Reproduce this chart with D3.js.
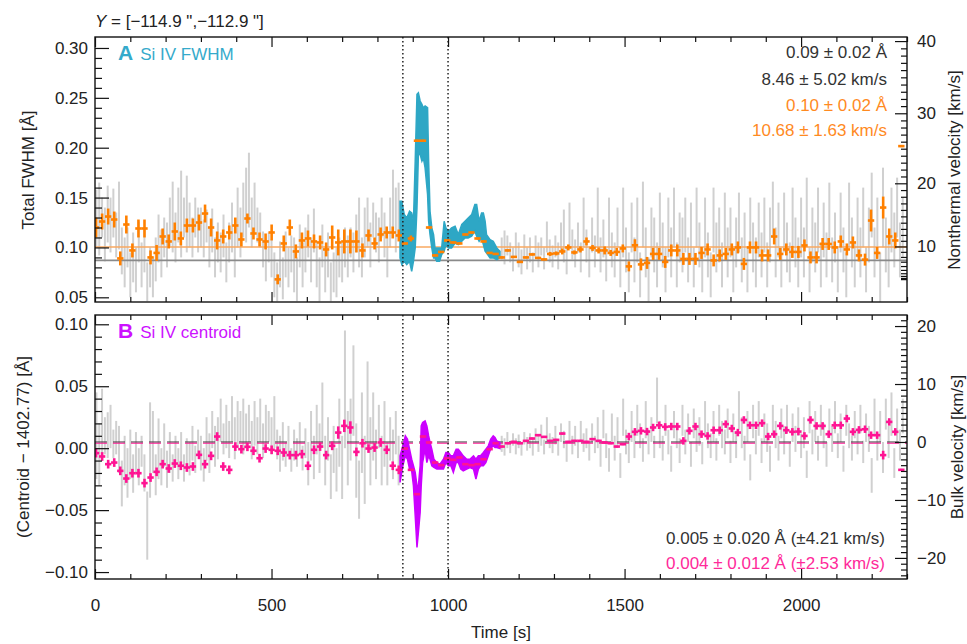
<!DOCTYPE html>
<html>
<head>
<meta charset="utf-8">
<title>Si IV FWHM / centroid</title>
<script src="https://d3js.org/d3.v7.min.js"></script>
<style>
  body { margin: 0; background: #fff; }
  svg { display: block; }
  text, .axis text { font-family: "Liberation Sans", Arial, Helvetica, sans-serif; font-size: 17px; fill: #222; }
  .axis line { stroke: #111; stroke-width: 1.2px; }
</style>
</head>
<body>
<svg width="967" height="644"></svg>
<script>
// ---------- data ----------
// binned points: time = binStart + i * binStep  [s]
var binStart = 3, binStep = 17.15, binHalf = 9;

// panel A, binned FWHM [Å]
var fwhmBin = [
  0.120,0.126,0.131,0.128,0.089,0.123,0.097,0.119,0.119,0.090,
  0.0945,0.111,0.106,0.116,0.109,0.122,0.122,0.125,0.134,0.120,
  0.107,0.111,0.115,0.122,0.108,0.129,0.114,0.108,0.106,0.115,
  0.068,0.104,0.120,0.096,0.107,0.109,0.106,0.105,0.098,0.110,
  0.105,0.106,0.106,0.106,0.097,0.112,0.104,0.113,0.115,0.115,
  0.112,0.104,0.109,0.207,0.207,0.120,0.092,0.0955,0.107,0.105,
  0.104,0.113,0.115,0.109,0.106,0.0945,0.0935,0.090,0.097,0.0905,
  0.0855,0.090,0.093,0.0895,0.088,0.0935,0.094,0.096,0.100,0.095,
  0.098,0.106,0.0995,0.097,0.097,0.0945,0.0955,0.099,0.081,0.1022,
  0.083,0.0845,0.0935,0.0935,0.0855,0.097,0.097,0.0885,0.0885,0.0885,
  0.0945,0.098,0.087,0.092,0.0935,0.098,0.100,0.0835,0.100,0.100,
  0.092,0.092,0.111,0.0935,0.098,0.0955,0.0955,0.102,0.090,0.090,
  0.1035,0.1035,0.100,0.106,0.098,0.105,0.092,0.0878,0.127,0.0945,
  0.140,0.111,0.107,0.2016
];
// half error bars, 10^-3 Å
var fwhmBinErr = [
  10,8,8,8,7,9,7,9,9,7, 8,8,7,9,7,7,7,8,9,9, 9,7,7,8,7,5,6,7,8,8,
  5,8,8,7,8,8,7,7,7,12, 13,12,12,11,7,6,6,7,6,6, 6,1,3,1,1,1,1,1,1,1,
  1,1,1,1,1,1,1,1,1,1, 1,1,1,1,1,2,2,3,3,2, 3,4,3,3,4,3,4,4,5,6,
  6,6,6,6,6,6,6,6,6,6, 6,6,6,6,6,6,6,6,6,6, 6,6,8,6,6,6,6,6,6,6,
  6,6,6,6,6,6,6,6,11,6, 11,8,8,1
];

// panel B, binned centroid offset, 10^-3 Å
var centBin = [
  -4.0,-6.7,-12.9,-11.6,-18.3,-24.5,-20.2,-20.2,-28.2,-23.7,
  -19.1,-12.9,-16.4,-12.4,-14.2,-15.6,-14.8,-5.4,-12.9,-6.2,
  9.4,-14.8,-17.5,1.3,-0.8,1.1,-2.1,-8.1,-0.3,-1.3,
  -2.1,-3.5,-5.6,-5.6,-4.8,-14.2,-1.3,1.3,-5.6,1.9,
  12.6,18.0,16.7,-3.0,4.0,-0.3,0.5,4.6,-1.3,-14.2,
  -17.5,-0.3,-17.5,-37.1,9.4,4.6,-11.6,-13.7,-8.3,-9.4,
  -7.5,-12.9,-13.7,-12.9,-8.9,-0.8,4.0,1.3,4.0,5.1,
  4.0,5.9,7.8,10.5,9.1,5.9,6.7,11.8,5.1,5.9,
  5.9,5.1,7.3,5.9,4.6,4.0,1.3,3.2,9.4,13.2,
  14.0,13.4,16.7,18.5,17.2,17.5,17.5,5.9,14.0,17.5,
  11.3,9.9,14.5,14.5,19.4,15.9,12.6,22.8,18.5,18.5,
  20.2,9.4,11.3,18.0,14.5,13.2,13.4,9.9,22.8,18.0,
  18.0,11.3,18.5,18.5,23.9,13.2,14.8,15.3,10.5,10.5,
  -5.6,21.2,13.2,-17.5
];
var centBinErr = [
  3.5,3.5,3.5,3.5,3.5,3.5,3.5,3.5,3.5,3.5, 3.5,3.5,3.5,3.5,3.5,3.5,3.5,3.5,3.5,3.5,
  3.5,3.5,3.5,3.5,3.5,3.5,3.5,3.5,3.5,3.5, 3.5,3.5,3.5,3.5,3.5,3.5,3.5,3.5,3.5,3.5,
  5,5,5,3.5,3.5,3.5,3.5,3.5,3.5,3.5, 3.5,0.8,0.8,0.8,0.8,0.8,0.8,0.8,0.8,0.8,
  0.8,0.8,0.8,0.8,0.8,0.8,0.8,0.8,0.8,0.8, 0.8,0.8,0.8,0.8,0.8,0.8,0.8,0.8,0.8,0.8,
  0.8,0.8,0.8,0.8,0.8,0.8,0.8,0.8,3,3, 3,3,3,3,3,3,3,3,3,3,
  3,3,3,3,3,3,3,3,3,3, 3,3,3,3,3,3,3,3,3,3,
  3,3,3,3,3,3,3,3,3,3, 3.5,3,3,0.8
];

// full-cadence error bars (grey), [lo, hi] in 10^-3 Å, time = start + i * grayStep
var grayStep = 8, grayPreStart = 4, grayPostStart = 1152;
var fwhmGrayPre = [
  [100,158],[92,165],[110,150],[86,140],[105,162],[95,150],[110,159],[90,135],[98,166],[73,120],
  [60,110],[80,120],[50,95],[65,115],[55,100],[85,126],[60,105],[75,120],[46,85],[60,100],
  [50,90],[66,110],[85,133],[70,118],[90,130],[80,125],[100,150],[95,166],[85,135],[105,160],
  [90,177],[110,150],[95,172],[100,145],[90,130],[110,150],[95,140],[100,140],[90,128],[105,138],
  [80,120],[95,139],[70,110],[85,125],[75,115],[90,133],[65,105],[85,125],[95,145],[70,120],
  [100,160],[90,140],[110,165],[105,180],[120,195],[100,150],[115,165],[105,140],[100,135],[80,116],
  [66,105],[85,115],[70,108],[50,95],[46,85],[60,106],[48,90],[70,116],[60,100],[75,112],
  [55,110],[46,90],[80,123],[60,105],[75,120],[90,133],[65,110],[95,139],[60,105],[46,90],
  [80,123],[55,100],[70,115],[46,85],[55,95],[50,100],[70,110],[65,105],[80,120],[70,112],
  [90,120],[75,115],[95,133],[80,150],[70,110],[90,140],[100,150],[80,125],[110,145],[95,135],
  [85,130],[110,150],[90,135],[70,115],[100,150],[120,178],[95,160],[110,165]
];
var fwhmGrayPost = [
  [88,110],[83,117],[92,112],[85,105],[76,100],[90,115],[80,105],[73,98],[88,113],[78,100],
  [85,110],[75,95],[90,112],[80,105],[92,110],[78,100],[95,126],[85,108],[80,102],[90,112],
  [78,105],[95,125],[85,138],[73,100],[100,145],[88,118],[80,108],[95,125],[75,105],[100,150],
  [85,118],[70,100],[95,130],[80,112],[100,160],[75,110],[90,128],[66,100],[95,150],[80,115],
  [70,105],[100,140],[60,100],[90,160],[75,120],[55,95],[95,145],[65,110],[85,150],[50,95],
  [100,166],[70,120],[46,90],[90,140],[75,130],[60,105],[95,155],[80,125],[55,100],[90,150],
  [70,120],[100,160],[60,105],[85,135],[75,130],[95,150],[65,110],[90,145],[60,100],[100,160],
  [80,125],[55,100],[90,150],[70,115],[50,95],[95,160],[75,125],[85,140],[60,105],[100,155],
  [70,120],[90,140],[55,100],[80,130],[95,155],[65,110],[85,135],[55,100],[100,150],[75,125],
  [60,110],[90,145],[70,115],[95,150],[60,105],[85,140],[110,166],[70,120],[90,145],[60,100],
  [95,155],[75,125],[65,105],[100,160],[80,130],[60,110],[90,150],[70,120],[100,170],[55,100],
  [85,140],[75,125],[95,160],[60,105],[90,145],[70,115],[100,165],[65,110],[85,135],[55,100],
  [95,155],[75,120],[50,95],[100,165],[80,130],[60,105],[90,150],[70,120],[100,160],[55,100],
  [85,140],[110,175],[70,120],[90,150],[45,95],[100,180],[75,130],[60,110],[95,160],[80,135],
  [110,170],[70,125],[90,150]
];
var centGrayPre = [
  [-25,45],[-30,20],[-10,48],[-5,25],[-8,29],[0,35],[-8,15],[-5,22],[-20,18],[-47,-10],
  [-30,10],[-40,0],[-25,15],[-36,-5],[-20,13],[-30,0],[-15,10],[-35,-5],[-90,-35],[-40,37],
  [-20,30],[-38,-5],[-25,24],[-30,0],[-15,20],[-32,-2],[-20,13],[-27,-5],[-15,10],[-25,0],
  [-12,13],[-27,-5],[-18,8],[-22,5],[-10,18],[-20,2],[-5,15],[-18,10],[-27,0],[-10,25],
  [-20,12],[0,30],[-15,18],[-9,25],[5,40],[-5,20],[0,35],[-8,22],[5,42],[-9,25],
  [0,38],[5,30],[-5,40],[0,28],[5,35],[-9,22],[2,38],[-5,25],[5,40],[-8,20],
  [0,35],[5,30],[-5,25],[0,42],[-9,15],[-19,10],[-10,21],[-15,5],[-5,18],[-19,0],
  [-10,15],[-15,8],[-5,21],[-18,2],[-8,16],[-30,5],[-10,30],[-25,10],[-5,35],[-20,20],
  [0,53],[-30,10],[-10,25],[-41,-5],[-20,18],[-35,0],[-15,40],[-41,10],[0,95],[-30,30],
  [-10,40],[10,83],[-40,20],[-57,-10],[-20,45],[-45,10],[0,70],[-30,25],[-10,45],[-25,15],
  [0,35],[-30,10],[-15,38],[-30,5],[-10,25],[-25,15],[-5,30],[-30,10]
];
var centGrayPost = [
  [-3,10],[-6,8],[0,13],[-4,6],[2,12],[-5,8],[0,11],[-6,5],[3,13],[-2,9],
  [0,12],[-6,8],[4,16],[-3,10],[2,19],[-5,7],[5,25],[0,12],[-4,9],[3,18],
  [-6,6],[5,20],[0,14],[-11,5],[4,22],[-5,10],[2,18],[-8,6],[6,22],[-3,12],
  [0,16],[-10,4],[5,20],[-4,10],[0,25],[-15,5],[8,31],[-8,12],[-19,0],[5,28],
  [-10,10],[2,25],[-24,-4],[10,40],[-5,15],[-12,8],[5,30],[-8,12],[10,35],[0,20],
  [-11,8],[8,38],[-5,15],[5,25],[-8,10],[20,57],[0,22],[-10,10],[10,35],[-5,15],
  [-19,2],[8,30],[0,20],[-12,8],[10,35],[-5,15],[5,28],[-15,5],[8,32],[-3,18],
  [2,25],[-13,5],[10,38],[0,20],[-8,12],[5,30],[-10,8],[10,35],[0,22],[-5,15],
  [8,32],[-12,6],[5,28],[-8,14],[15,46],[0,25],[-10,10],[5,30],[-26,-5],[8,35],
  [-5,15],[10,38],[-12,8],[5,28],[-3,20],[-19,2],[10,35],[0,22],[-10,10],[8,32],
  [-5,18],[12,35],[-15,5],[5,28],[-3,18],[10,33],[-8,12],[0,25],[-24,-2],[12,38],
  [-5,15],[5,30],[-10,10],[10,35],[0,20],[-15,5],[8,32],[-3,18],[12,38],[-8,12],
  [5,28],[-19,2],[10,35],[0,20],[-10,10],[8,30],[-5,15],[12,35],[-12,6],[5,28],
  [-3,18],[-36,-8],[10,40],[-10,12],[5,30],[-20,5],[15,40],[-8,18],[10,45],[-24,0],
  [5,32],[-10,15],[12,40]
];

// high-cadence band during the event: [time, lo, hi]
var fwhmBand = [
  [864,0.0895,0.1464],[869,0.0828,0.1464],[876,0.0861,0.1330],[883,0.0828,0.1296],[891,0.0861,0.1363],
  [897,0.0761,0.1346],[902,0.0861,0.1263],[907,0.0995,0.1865],[912,0.1397,0.2535],[916,0.1933,0.2551],
  [921,0.1933,0.2468],[926,0.1865,0.2435],[930,0.1899,0.2401],[935,0.1798,0.2418],[942,0.1531,0.2401],
  [945,0.1263,0.1865],[949,0.1129,0.1363],[954,0.0995,0.1196],[959,0.0895,0.1129],[963,0.0895,0.0995],
  [968,0.0861,0.0995],[976,0.0861,0.0995],[982,0.0929,0.0995],[989,0.0962,0.1263],[994,0.1029,0.1196],
  [1001,0.0995,0.1163],[1010,0.0995,0.1196],[1020,0.1045,0.1213],[1029,0.1029,0.1129],[1039,0.1062,0.1230],
  [1048,0.1095,0.1263],[1057,0.1095,0.1296],[1067,0.1112,0.1330],[1076,0.1163,0.1431],[1081,0.1112,0.1431],
  [1088,0.1062,0.1263],[1095,0.1095,0.1346],[1100,0.1029,0.1346],[1105,0.0962,0.1263],[1109,0.0945,0.1129],
  [1119,0.0895,0.1079],[1128,0.0895,0.1062],[1138,0.0878,0.0995],[1147,0.0895,0.0962]
];
var centBand = [
  [864,-0.0277,-0.0062],[872,-0.0142,0.0019],[879,-0.0062,0.0099],[885,-0.0089,0.0073],[891,-0.0169,-0.0008],
  [897,-0.0183,-0.0089],[902,-0.0304,-0.0142],[907,-0.0546,-0.0196],[912,-0.0801,-0.0304],[916,-0.0680,-0.0304],
  [921,-0.0519,-0.0142],[924,-0.0304,0.0180],[928,-0.0116,0.0207],[935,-0.0008,0.0220],[940,-0.0116,0.0180],
  [945,-0.0062,0.0099],[949,-0.0089,0.0046],[954,-0.0142,-0.0008],[960,-0.0156,-0.0089],[968,-0.0169,-0.0116],
  [977,-0.0169,-0.0129],[987,-0.0169,-0.0089],[994,-0.0116,-0.0035],[1001,-0.0142,-0.0035],[1008,-0.0142,-0.0062],
  [1015,-0.0196,-0.0062],[1023,-0.0116,-0.0008],[1029,-0.0116,-0.0008],[1036,-0.0169,-0.0035],[1043,-0.0183,-0.0062],
  [1053,-0.0169,-0.0089],[1062,-0.0156,-0.0089],[1072,-0.0169,-0.0062],[1079,-0.0250,-0.0089],[1086,-0.0169,-0.0062],
  [1092,-0.0142,-0.0062],[1100,-0.0142,-0.0035],[1107,-0.0116,-0.0008],[1114,-0.0062,0.0019],[1121,-0.0003,0.0073],
  [1128,0.0019,0.0099],[1133,0.0005,0.0086],[1138,0.0005,0.0059],[1147,-0.0003,0.0046]
];

// mean levels and event markers
var fwhmMeanAll = 0.087, fwhmMeanBin = 0.1005;
var centMeanAll = 0.005, centMeanBin = 0.004;
var eventTimes = [872, 1000];

// axis ticks
var timeTicks = [0, 500, 1000, 1500, 2000];
var fwhmTicks = [0.05, 0.10, 0.15, 0.20, 0.25, 0.30];
var centTicks = [-0.10, -0.05, 0.00, 0.05, 0.10];
var nonthermalTicks = [10, 20, 30, 40];
var bulkTicks = [-20, -10, 0, 10, 20];

// velocity conversions for right-hand axes
var ntA = 0.0046, ntK = 5.6e-5;           // FWHM^2 = ntA + ntK * v^2
var lightSpeed = 299792.458, restWave = 1402.77;

// texts
var titleText = ' = [\u2212114.9 ",\u2212112.9 "]';
var legendA = [
  { text: '0.09 \u00b1 0.02 \u00c5', color: '#333' },
  { text: '8.46 \u00b1 5.02 km/s', color: '#333' },
  { text: '0.10 \u00b1 0.02 \u00c5', color: '#ff8a1f' },
  { text: '10.68 \u00b1 1.63 km/s', color: '#ff8a1f' }
];
var legendB = [
  { text: '0.005 \u00b1 0.020 \u00c5 (\u00b14.21 km/s)', color: '#333' },
  { text: '0.004 \u00b1 0.012 \u00c5 (\u00b12.53 km/s)', color: '#ff2a9a' }
];

// ---------- drawing ----------
var svg = d3.select('svg');
var x = d3.scaleLinear().domain([0, 2300]).range([95, 907]);
var yA = d3.scaleLinear().domain([0.0453, 0.311]).range([302, 37]);
var yB = d3.scaleLinear().domain([-0.1056, 0.1075]).range([579, 315]);

var orange = '#ff8000', cyan = '#2ea7c5', pink = '#ff1493', magenta = '#cc00ff', grey = '#d0d0d0';

function ntToFwhm(v) { return Math.sqrt(ntA + ntK * v * v); }
function bulkToCent(v) { return centMeanAll + v * restWave / lightSpeed; }

function clipFor(id, y) {
  svg.append('clipPath').attr('id', id).append('rect')
    .attr('x', x.range()[0]).attr('y', y.range()[1])
    .attr('width', x.range()[1] - x.range()[0])
    .attr('height', y.range()[0] - y.range()[1]);
  return svg.append('g').attr('clip-path', 'url(#' + id + ')');
}

function greyBars(g, y, rows, start) {
  g.selectAll(null).data(rows).enter().append('line')
    .attr('x1', function(d, i) { return x(start + i * grayStep); })
    .attr('x2', function(d, i) { return x(start + i * grayStep); })
    .attr('y1', function(d) { return y(d[0] / 1000); })
    .attr('y2', function(d) { return y(d[1] / 1000); })
    .attr('stroke', grey).attr('stroke-width', 2);
}

function hline(g, y, v, color, width, dash) {
  g.append('line').attr('x1', x.range()[0]).attr('x2', x.range()[1])
    .attr('y1', y(v)).attr('y2', y(v))
    .attr('stroke', color).attr('stroke-width', width)
    .attr('stroke-dasharray', dash || null);
}

function band(g, y, rows, color) {
  var area = d3.area()
    .x(function(d) { return x(d[0]); })
    .y0(function(d) { return y(d[1]); })
    .y1(function(d) { return y(d[2]); });
  g.append('path').datum(rows).attr('d', area)
    .attr('fill', color).attr('stroke', color).attr('stroke-width', 1.5);
}

function crosses(g, y, vals, errs, unit, color) {
  var pts = vals.map(function(v, i) {
    return { t: binStart + i * binStep, v: v * unit, e: errs[i] / 1000 };
  });
  var c = g.selectAll(null).data(pts).enter().append('g')
    .attr('stroke', color).attr('stroke-width', 2.6);
  c.append('line')
    .attr('x1', function(d) { return x(d.t - binHalf); })
    .attr('x2', function(d) { return x(d.t + binHalf); })
    .attr('y1', function(d) { return y(d.v); })
    .attr('y2', function(d) { return y(d.v); });
  c.append('line')
    .attr('x1', function(d) { return x(d.t); })
    .attr('x2', function(d) { return x(d.t); })
    .attr('y1', function(d) { return y(d.v - d.e); })
    .attr('y2', function(d) { return y(d.v + d.e); });
}

function eventLines(g, y) {
  eventTimes.forEach(function(t) {
    g.append('line').attr('x1', x(t)).attr('x2', x(t))
      .attr('y1', y.range()[1]).attr('y2', y.range()[0])
      .attr('stroke', '#222').attr('stroke-width', 1.5)
      .attr('stroke-dasharray', '1.5,2.5');
  });
}

function noDomain(g) { g.select('.domain').remove(); }
function blank() { return ''; }

function frameAndAxes(y, leftTicks, leftMinor, leftFmt, rightTicks, rightMinor, rightLabels, showTime) {
  var top = y.range()[1], bot = y.range()[0];
  var minorTime = d3.range(0, 2301, 100).filter(function(t) { return t % 500 !== 0; });

  svg.append('g').attr('class', 'axis').attr('transform', 'translate(0,' + bot + ')')
    .call(d3.axisBottom(x).tickValues(timeTicks).tickSizeInner(-10).tickSizeOuter(0)
      .tickPadding(20).tickFormat(showTime ? d3.format('d') : blank)).call(noDomain);
  svg.append('g').attr('class', 'axis').attr('transform', 'translate(0,' + bot + ')')
    .call(d3.axisBottom(x).tickValues(minorTime).tickSizeInner(-5).tickSizeOuter(0).tickFormat(blank)).call(noDomain);
  svg.append('g').attr('class', 'axis').attr('transform', 'translate(0,' + top + ')')
    .call(d3.axisTop(x).tickValues(timeTicks).tickSizeInner(-10).tickSizeOuter(0).tickFormat(blank)).call(noDomain);
  svg.append('g').attr('class', 'axis').attr('transform', 'translate(0,' + top + ')')
    .call(d3.axisTop(x).tickValues(minorTime).tickSizeInner(-5).tickSizeOuter(0).tickFormat(blank)).call(noDomain);

  var x0 = x.range()[0], x1 = x.range()[1];
  svg.append('g').attr('class', 'axis').attr('transform', 'translate(' + x0 + ',0)')
    .call(d3.axisLeft(y).tickValues(leftTicks).tickSizeInner(-14).tickSizeOuter(0)
      .tickPadding(7).tickFormat(leftFmt)).call(noDomain);
  svg.append('g').attr('class', 'axis').attr('transform', 'translate(' + x0 + ',0)')
    .call(d3.axisLeft(y).tickValues(leftMinor).tickSizeInner(-7).tickSizeOuter(0).tickFormat(blank)).call(noDomain);

  svg.append('g').attr('class', 'axis').attr('transform', 'translate(' + x1 + ',0)')
    .call(d3.axisRight(y).tickValues(rightTicks).tickSizeInner(-12).tickSizeOuter(0)
      .tickPadding(10).tickFormat(function(d, i) { return rightLabels[i]; })).call(noDomain);
  svg.append('g').attr('class', 'axis').attr('transform', 'translate(' + x1 + ',0)')
    .call(d3.axisRight(y).tickValues(rightMinor).tickSizeInner(-6).tickSizeOuter(0).tickFormat(blank)).call(noDomain);

  svg.append('rect').attr('x', x0).attr('y', top).attr('width', x1 - x0).attr('height', bot - top)
    .attr('fill', 'none').attr('stroke', '#111').attr('stroke-width', 1.4);
}

function inDomain(y) {
  var d = y.domain();
  return function(v) { return v >= d[0] && v <= d[1]; };
}

// ----- panel A -----
var gA = clipFor('clipA', yA);
greyBars(gA, yA, fwhmGrayPre, grayPreStart);
greyBars(gA, yA, fwhmGrayPost, grayPostStart);
hline(gA, yA, fwhmMeanAll, '#8a8a8a', 1.8);
hline(gA, yA, fwhmMeanBin, '#f8a860', 1.6);
band(gA, yA, fwhmBand, cyan);
crosses(gA, yA, fwhmBin, fwhmBinErr, 1, orange);
eventLines(svg, yA);

var fwhmMinor = d3.range(0.05, 0.305, 0.01).filter(function(v) { return Math.round(v * 100) % 5 !== 0; });
var ntMinorV = d3.range(1, 41).filter(function(v) { return v % 10 !== 0; });
frameAndAxes(yA, fwhmTicks, fwhmMinor, d3.format('.2f'),
  nonthermalTicks.map(ntToFwhm).filter(inDomain(yA)),
  ntMinorV.map(ntToFwhm).filter(inDomain(yA)),
  nonthermalTicks.map(String), false);

// ----- panel B -----
var gB = clipFor('clipB', yB);
greyBars(gB, yB, centGrayPre, grayPreStart);
greyBars(gB, yB, centGrayPost, grayPostStart);
hline(gB, yB, centMeanAll, '#333', 1.2, '12,6');
hline(gB, yB, centMeanBin, pink, 1.0, '12,6');
band(gB, yB, centBand, magenta);
crosses(gB, yB, centBin, centBinErr, 0.001, pink);
eventLines(svg, yB);

var centMinor = d3.range(-0.10, 0.105, 0.01).filter(function(v) { return Math.round(v * 100) % 5 !== 0; });
var bulkMinorV = d3.range(-25, 25).filter(function(v) { return v % 10 !== 0; });
frameAndAxes(yB, centTicks, centMinor, d3.format('.2f'),
  bulkTicks.map(bulkToCent),
  bulkMinorV.map(bulkToCent).filter(inDomain(yB)),
  bulkTicks.map(function(v) { return d3.format('d')(v); }), true);

// ----- texts -----
var title = svg.append('text').attr('x', 95).attr('y', 27);
title.append('tspan').attr('font-style', 'italic').text('Y');
title.append('tspan').text(titleText);

function panelLabel(letter, name, y, color) {
  var t = svg.append('text').attr('x', 118).attr('y', y).style('fill', color);
  t.append('tspan').attr('font-weight', 'bold').style('font-size', '21px').style('fill', color).text(letter);
  t.append('tspan').attr('dx', 7).style('fill', color).text(name);
}
panelLabel('A', 'Si IV FWHM', 60, '#35aacb');
panelLabel('B', 'Si IV centroid', 338, '#cc11ff');

var legendAY = [58, 85, 111, 136];
legendA.forEach(function(d, i) {
  svg.append('text').attr('x', 887).attr('y', legendAY[i]).attr('text-anchor', 'end')
    .style('fill', d.color).text(d.text);
});
var legendBY = [544, 569];
legendB.forEach(function(d, i) {
  svg.append('text').attr('x', 885).attr('y', legendBY[i]).attr('text-anchor', 'end')
    .style('fill', d.color).text(d.text);
});

function vLabel(txt, cx, cy) {
  svg.append('text').attr('transform', 'translate(' + cx + ',' + cy + ') rotate(-90)')
    .attr('text-anchor', 'middle').text(txt);
}
vLabel('Total FWHM [\u00c5]', 34, 170);
vLabel('(Centroid \u2212 1402.77) [\u00c5]', 29, 447);
vLabel('Nonthermal velocity [km/s]', 960, 170);
vLabel('Bulk velocity [km/s]', 963, 447);

svg.append('text').attr('x', (x.range()[0] + x.range()[1]) / 2).attr('y', 638)
  .attr('text-anchor', 'middle').text('Time [s]');
</script>
</body>
</html>
